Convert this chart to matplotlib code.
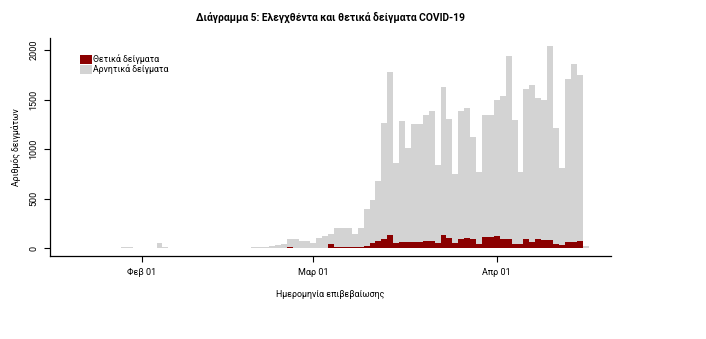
import numpy as np
import pandas as pd
import matplotlib
matplotlib.use("Agg")
import matplotlib.pyplot as plt
import matplotlib.dates as mdates
from matplotlib.patches import Patch

plt.rcParams['font.family'] = ['Roboto', 'DejaVu Sans']

start_date = "2020-01-21"
end_date = "2020-04-16"

tested = [
    # Jan 21 - Jan 31
    4, 4, 0, 0, 0, 3, 4, 6, 8, 8, 5,
    # Feb 1 - Feb 29
    4, 4, 5, 57, 17, 7, 6, 6, 5, 6, 5, 4, 3, 3, 4, 5, 6, 5, 6,
    8, 12, 15, 25, 34, 40, 94, 94, 74, 74,
    # Mar 1 - Mar 31
    50, 101, 125, 144, 202, 202, 202, 144, 208, 393, 487, 679, 1267, 1776, 857,
    1284, 1009, 1257, 1257, 1345, 1382, 837, 1631, 1308, 750, 1385, 1416, 1123,
    767, 1342, 1342,
    # Apr 1 - Apr 16
    1496, 1537, 1940, 1295, 773, 1604, 1645, 1513, 1496, 2038, 1217, 810, 1705,
    1857, 1752, 22,
]

positives = [
    # Jan 21 - Jan 31
    0, 0, 0, 0, 0, 0, 0, 0, 0, 0, 0,
    # Feb 1 - Feb 29
    0, 0, 0, 4, 0, 0, 0, 0, 0, 0, 0, 0, 0, 0, 0, 0, 0, 0, 0,
    0, 0, 0, 0, 0, 3, 8, 3, 2, 2,
    # Mar 1 - Mar 31
    0, 2, 3, 46, 13, 13, 13, 13, 17, 23, 54, 74, 91, 134, 57,
    64, 64, 64, 64, 74, 74, 51, 134, 108, 51, 94, 104, 91,
    44, 118, 118,
    # Apr 1 - Apr 16
    128, 94, 94, 44, 44, 94, 67, 94, 84, 84, 44, 37, 64,
    64, 74, 0,
]

tick_dates = ["2020-02-01", "2020-03-01", "2020-04-01"]
tick_labels = ["Φεβ 01", "Μαρ 01", "Απρ 01"]
y_ticks = [0, 500, 1000, 1500, 2000]

title = "Διάγραμμα 5: Ελεγχθέντα και θετικά δείγματα COVID-19"
xlabel = "Ημερομηνία επιβεβαίωσης"
ylabel = "Αριθμός δειγμάτων"
legend_labels = ["Θετικά δείγματα", "Αρνητικά δείγματα"]
pos_color = "#8B0000"
neg_color = "#D3D3D3"

dates = pd.date_range(start_date, end_date, freq="D")
x = mdates.date2num(dates)
pos = np.array(positives, dtype=float)
neg = np.array(tested, dtype=float) - pos

fig = plt.figure(figsize=(7.06, 3.39), dpi=100)
ax = fig.add_axes([50/706, 1 - 256/339, 561/706, 218/339])

ax.bar(x, pos, width=1.0, color=pos_color, linewidth=0, align="center")
ax.bar(x, neg, width=1.0, bottom=pos, color=neg_color, linewidth=0, align="center")

ax.set_xlim(mdates.date2num(pd.Timestamp("2020-03-01")) - 44.5,
            mdates.date2num(pd.Timestamp("2020-03-01")) + 50.3)
ax.set_ylim(-78, 2122)

ax.set_xticks(mdates.date2num(pd.to_datetime(tick_dates)))
ax.set_xticklabels(tick_labels, fontsize=6.5)
ax.set_yticks(y_ticks)
ax.set_yticklabels([str(v) for v in y_ticks], fontsize=6.5, rotation=90, va="center")
ax.tick_params(axis="both", direction="out", length=4.3, width=0.8, pad=4)

for s in ["top", "right"]:
    ax.spines[s].set_visible(False)
ax.spines["left"].set_linewidth(0.9)
ax.spines["bottom"].set_linewidth(0.9)

ax.set_xlabel(xlabel, fontsize=6.4, labelpad=10)
ax.set_ylabel(ylabel, fontsize=6.3, labelpad=6)

fig.suptitle(title, x=0.468, y=0.965, fontsize=7.4, fontweight="bold")

handles = [Patch(facecolor=pos_color, edgecolor="none"),
           Patch(facecolor=neg_color, edgecolor="none")]
ax.legend(handles, legend_labels, loc="upper left", bbox_to_anchor=(0.0535, 0.925),
          frameon=False, fontsize=6.3, handlelength=1.33, handleheight=1.22,
          handletextpad=0.2, labelspacing=0.0, borderaxespad=0, borderpad=0)

fig.savefig("out.png", dpi=100)
